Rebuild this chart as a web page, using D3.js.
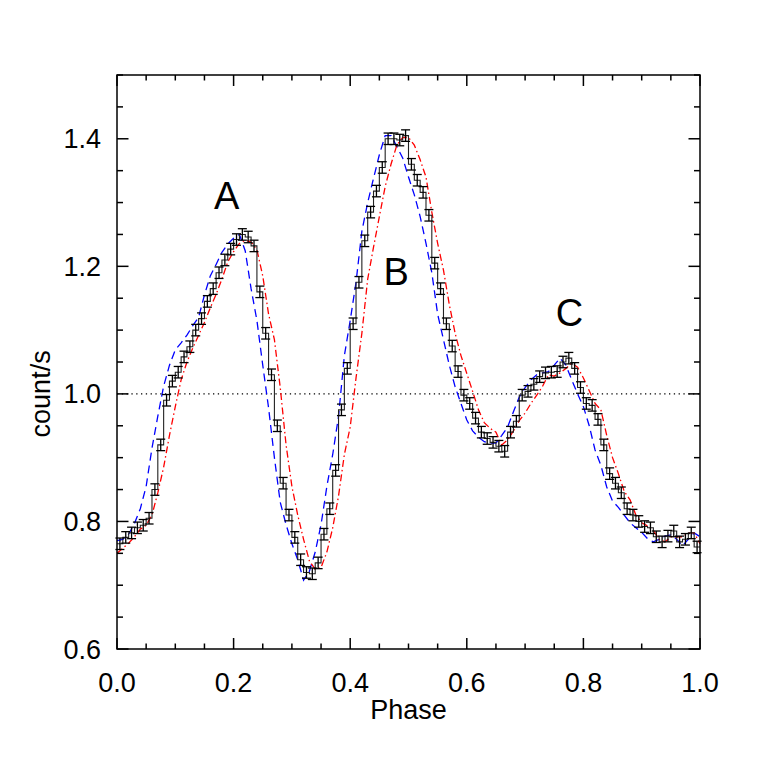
<!DOCTYPE html>
<html>
<head>
<meta charset="utf-8">
<script src="https://cdn.jsdelivr.net/npm/d3@7"></script>
<style>
  body { margin: 0; background: #fff; }
  text { font-family: "Liberation Sans", Arial, Helvetica, sans-serif; fill: #000; }
</style>
</head>
<body>
<div id="wrapper"></div>
<script>
// observed light curve, 100 phase bins (bin i covers i/100 .. (i+1)/100)
const countRate = [
  0.765, 0.775, 0.782, 0.790, 0.794, 0.805, 0.850, 0.920, 0.990, 1.020,
  1.034, 1.058, 1.074, 1.100, 1.118, 1.145, 1.165, 1.190, 1.210, 1.227,
  1.242, 1.250, 1.246, 1.232, 1.160, 1.095, 1.030, 0.950, 0.860, 0.810,
  0.775, 0.740, 0.720, 0.718, 0.735, 0.780, 0.820, 0.880, 0.975, 1.040,
  1.110, 1.175, 1.240, 1.285, 1.318, 1.355, 1.400, 1.400, 1.398, 1.405,
  1.360, 1.335, 1.316, 1.280, 1.205, 1.165, 1.110, 1.075, 1.035, 0.998,
  0.985, 0.962, 0.940, 0.930, 0.924, 0.918, 0.910, 0.940, 0.957, 0.998,
  1.004, 1.015, 1.027, 1.033, 1.034, 1.035, 1.050, 1.056, 1.040, 1.010,
  0.985, 0.982, 0.960, 0.920, 0.875, 0.860, 0.845, 0.820, 0.810, 0.800,
  0.792, 0.790, 0.776, 0.768, 0.777, 0.785, 0.768, 0.772, 0.782, 0.760
]
const countErr = 0.009

// model curves sampled every 0.01 in phase (0.00 .. 1.00)
const modelBlue = [
  0.770, 0.772, 0.780, 0.797, 0.820, 0.855, 0.915, 0.965, 1.012, 1.045,
  1.069, 1.080, 1.092, 1.107, 1.120, 1.155, 1.185, 1.203, 1.222, 1.235,
  1.244, 1.250, 1.224, 1.165, 1.115, 1.045, 0.978, 0.900, 0.830, 0.795,
  0.765, 0.740, 0.708, 0.722, 0.752, 0.795, 0.855, 0.905, 0.965, 1.060,
  1.115, 1.175, 1.255, 1.300, 1.338, 1.375, 1.405, 1.405, 1.388, 1.370,
  1.340, 1.312, 1.278, 1.236, 1.190, 1.125, 1.085, 1.045, 1.011, 0.985,
  0.959, 0.942, 0.932, 0.925, 0.923, 0.923, 0.935, 0.948, 0.972, 0.995,
  1.010, 1.022, 1.030, 1.033, 1.035, 1.045, 1.056, 1.045, 1.022, 1.000,
  0.980, 0.950, 0.912, 0.888, 0.854, 0.832, 0.822, 0.810, 0.798, 0.790,
  0.783, 0.773, 0.768, 0.772, 0.777, 0.779, 0.772, 0.762, 0.772, 0.782,
  0.776
]
const modelRed = [
  0.750, 0.758, 0.766, 0.776, 0.788, 0.794, 0.810, 0.845, 0.885, 0.935,
  0.980, 1.022, 1.050, 1.072, 1.092, 1.112, 1.135, 1.156, 1.180, 1.207,
  1.223, 1.236, 1.241, 1.238, 1.226, 1.185, 1.125, 1.085, 1.010, 0.920,
  0.855, 0.810, 0.772, 0.738, 0.725, 0.728, 0.752, 0.790, 0.840, 0.905,
  0.948, 1.025, 1.095, 1.180, 1.230, 1.278, 1.325, 1.360, 1.390, 1.402,
  1.402, 1.390, 1.367, 1.340, 1.285, 1.236, 1.194, 1.140, 1.095, 1.060,
  1.032, 1.004, 0.975, 0.955, 0.946, 0.940, 0.920, 0.928, 0.942, 0.958,
  0.970, 0.985, 0.998, 1.012, 1.030, 1.028, 1.033, 1.040, 1.048, 1.042,
  1.025, 1.005, 0.985, 0.975, 0.935, 0.900, 0.875, 0.847, 0.834, 0.810,
  0.798, 0.793, 0.786, 0.772, 0.768, 0.776, 0.776, 0.776, 0.782, 0.782,
  0.765
]

const xTicks = [0, 0.2, 0.4, 0.6, 0.8, 1.0]
const yTicks = [0.6, 0.8, 1.0, 1.2, 1.4]
const peakLabels = [
  { name: "A", phase: 0.188, value: 1.29 },
  { name: "B", phase: 0.479, value: 1.17 },
  { name: "C", phase: 0.776, value: 1.107 }
]

const width = 778
const height = 764
const margin = { top: 75, right: 78, bottom: 115, left: 117 }
const boundedWidth = width - margin.left - margin.right
const boundedHeight = height - margin.top - margin.bottom

const svg = d3.select("#wrapper")
  .append("svg")
    .attr("width", width)
    .attr("height", height)

const bounds = svg.append("g")
  .attr("transform", `translate(${margin.left},${margin.top})`)

const xScale = d3.scaleLinear().domain([0, 1]).range([0, boundedWidth])
const yScale = d3.scaleLinear().domain([0.6, 1.5]).range([boundedHeight, 0])

// reference line at 1.0
bounds.append("line")
  .attr("x1", 0).attr("x2", boundedWidth)
  .attr("y1", yScale(1)).attr("y2", yScale(1))
  .attr("stroke", "#000")
  .attr("stroke-width", 1.2)
  .attr("stroke-dasharray", "1.3,3.5")

// models
const modelPhase = (d, i) => xScale(i / 100)
const modelLine = d3.line().x(modelPhase).y(d => yScale(d))

bounds.append("path")
  .attr("d", modelLine(modelBlue))
  .attr("fill", "none")
  .attr("stroke", "#0000ff")
  .attr("stroke-width", 1.3)
  .attr("stroke-dasharray", "8,5")

bounds.append("path")
  .attr("d", modelLine(modelRed))
  .attr("fill", "none")
  .attr("stroke", "#ff0000")
  .attr("stroke-width", 1.3)
  .attr("stroke-dasharray", "7,3,1.5,3")

// observed histogram
const nBins = countRate.length
const stepPoints = countRate.map((v, i) => [i / nBins, v])
stepPoints.push([1, countRate[nBins - 1]])
const stepLine = d3.line()
  .x(d => xScale(d[0]))
  .y(d => yScale(d[1]))
  .curve(d3.curveStepAfter)

bounds.append("path")
  .attr("d", stepLine(stepPoints))
  .attr("fill", "none")
  .attr("stroke", "#222")
  .attr("stroke-width", 1.1)

const capHalf = 4.5
const errGroup = bounds.append("g")
  .attr("stroke", "#000")
  .attr("stroke-width", 1.3)

const bars = errGroup.selectAll("g")
  .data(countRate)
  .join("g")
    .attr("transform", (d, i) => `translate(${xScale((i + 0.5) / nBins)},0)`)

bars.append("line")
  .attr("y1", d => yScale(d - countErr))
  .attr("y2", d => yScale(d + countErr))
bars.append("line")
  .attr("x1", -capHalf).attr("x2", capHalf)
  .attr("y1", d => yScale(d + countErr)).attr("y2", d => yScale(d + countErr))
bars.append("line")
  .attr("x1", -capHalf).attr("x2", capHalf)
  .attr("y1", d => yScale(d - countErr)).attr("y2", d => yScale(d - countErr))

// peak labels
bounds.selectAll(".peak")
  .data(peakLabels)
  .join("text")
    .attr("class", "peak")
    .attr("x", d => xScale(d.phase))
    .attr("y", d => yScale(d.value))
    .attr("text-anchor", "middle")
    .style("font-size", "38px")
    .text(d => d.name)

// frame and ticks
bounds.append("rect")
  .attr("width", boundedWidth)
  .attr("height", boundedHeight)
  .attr("fill", "none")
  .attr("stroke", "#000")
  .attr("stroke-width", 1.5)

const xMinor = d3.range(0, 1.0001, 0.05)
const yMinor = d3.range(0.6, 1.5001, 0.05)
const isMajorX = v => xTicks.some(t => Math.abs(t - v) < 1e-6)
const isMajorY = v => yTicks.some(t => Math.abs(t - v) < 1e-6)

const tickGroup = bounds.append("g")
  .attr("stroke", "#000")
  .attr("stroke-width", 1.5)

xMinor.forEach(v => {
  const len = isMajorX(v) ? 11 : 5.5
  const x = xScale(v)
  tickGroup.append("line").attr("x1", x).attr("x2", x)
    .attr("y1", boundedHeight).attr("y2", boundedHeight - len)
  tickGroup.append("line").attr("x1", x).attr("x2", x)
    .attr("y1", 0).attr("y2", len)
})
yMinor.forEach(v => {
  const len = isMajorY(v) ? 11.5 : 6
  const y = yScale(v)
  tickGroup.append("line").attr("y1", y).attr("y2", y)
    .attr("x1", 0).attr("x2", len)
  tickGroup.append("line").attr("y1", y).attr("y2", y)
    .attr("x1", boundedWidth).attr("x2", boundedWidth - len)
})

// tick labels
bounds.selectAll(".x-label")
  .data(xTicks)
  .join("text")
    .attr("class", "x-label")
    .attr("x", d => xScale(d))
    .attr("y", boundedHeight + 43)
    .attr("text-anchor", "middle")
    .style("font-size", "27px")
    .text(d3.format(".1f"))

bounds.selectAll(".y-label")
  .data(yTicks)
  .join("text")
    .attr("class", "y-label")
    .attr("x", -16)
    .attr("y", d => yScale(d) + 9.5)
    .attr("text-anchor", "end")
    .style("font-size", "27px")
    .text(d3.format(".1f"))

// axis titles
svg.append("text")
  .attr("x", margin.left + xScale(0.5))
  .attr("y", 719)
  .attr("text-anchor", "middle")
  .style("font-size", "27px")
  .text("Phase")

svg.append("text")
  .attr("transform", `translate(50,${margin.top + yScale(1.0)}) rotate(-90)`)
  .attr("text-anchor", "middle")
  .style("font-size", "27px")
  .text("count/s")
</script>
</body>
</html>
